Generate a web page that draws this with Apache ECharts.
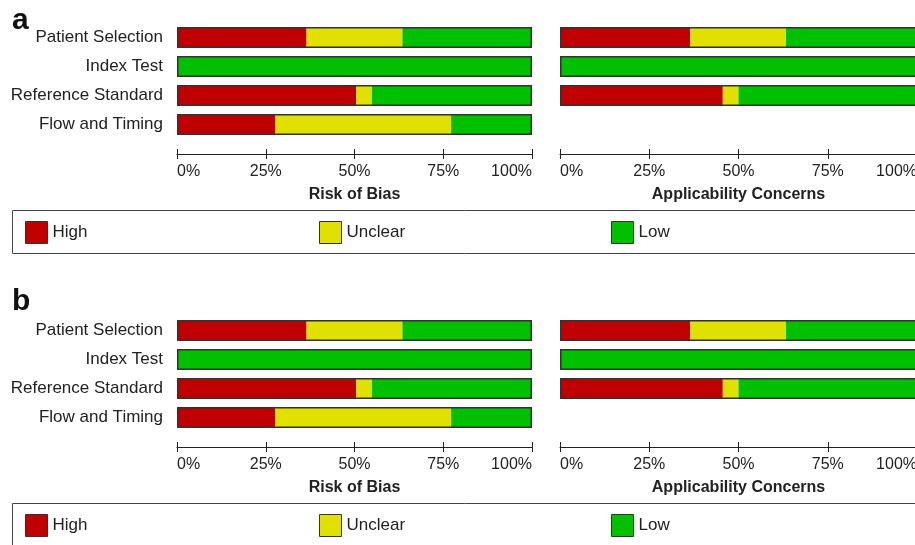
<!DOCTYPE html>
<html>
<head>
<meta charset="utf-8">
<script src="https://cdn.jsdelivr.net/npm/echarts@6/dist/echarts.min.js"></script>
<style>
html,body{margin:0;padding:0;background:#fff;}
#chart{width:915px;height:545px;}
</style>
</head>
<body>
<div id="chart"></div>
<script>
const categories = ['Patient Selection', 'Index Test', 'Reference Standard', 'Flow and Timing'];
const levels = ['High', 'Unclear', 'Low'];
const levelColors = ['#C00000', '#E1E100', '#00C000'];
// Risk of Bias (%)
const robHigh = [36.5, 0, 50.5, 27.7];
const robUnclear = [27.0, 0, 4.4, 49.5];
const robLow = [36.5, 100, 45.1, 22.8];
// Applicability Concerns (%) - Flow and Timing not assessed
const acHigh = [36.5, 0, 45.6, null];
const acUnclear = [26.8, 0, 4.4, null];
const acLow = [36.7, 100, 50.0, null];
const tickInterval = 25;
const panelLabels = ['a', 'b'];
const axisNames = ['Risk of Bias', 'Applicability Concerns'];

const FONT = 'Liberation Sans, Arial, sans-serif';
const panels = [0, 293];
const labelTops = [6, 287];
const grids = [], xAxes = [], yAxes = [], series = [], legends = [], graphics = [], titles = [];

const datasets = [[robHigh, robUnclear, robLow], [acHigh, acUnclear, acLow]];

panels.forEach((dy, p) => {
  titles.push({text: panelLabels[p], left: 12, top: labelTops[p], padding: 0,
    textStyle: {fontFamily: FONT, fontSize: 30, fontWeight: 'bold', color: '#111'}});
  [0, 1].forEach(side => {
    const gi = grids.length;
    grids.push({left: side === 0 ? 177 : 560, top: 23 + dy, width: side === 0 ? 355 : 357, height: 116,
      containLabel: false, outerBoundsMode: 'none'});
    const baseX = {
      type: 'value', gridIndex: gi, min: 0, max: 100, interval: tickInterval,
      position: 'bottom', offset: 15, splitLine: {show: false}
    };
    xAxes.push(Object.assign({}, baseX, {
      axisLine: {show: true, lineStyle: {color: '#222', width: 1}},
      axisTick: {show: true, length: 5, lineStyle: {color: '#222', width: 1}},
      axisLabel: {show: true, formatter: '{value}%', margin: 10, fontSize: 16, fontFamily: FONT, color: '#222',
        alignMinLabel: 'left', alignMaxLabel: 'right'},
      name: axisNames[side], nameLocation: 'middle', nameGap: 33,
      nameTextStyle: {fontFamily: FONT, fontSize: 16, fontWeight: 'bold', color: '#222'}
    }));
    const auxIndex = xAxes.length;
    xAxes.push(Object.assign({}, baseX, {
      axisLine: {show: false},
      axisTick: {show: true, inside: true, length: 5, lineStyle: {color: '#222', width: 1}},
      axisLabel: {show: false}
    }));
    const xi = auxIndex - 1;
    yAxes.push({
      type: 'category', gridIndex: gi, data: categories, inverse: true,
      axisLine: {show: false}, axisTick: {show: false},
      axisLabel: {show: side === 0, fontSize: 17, fontFamily: FONT, color: '#222', margin: 14}
    });
    const yi = yAxes.length - 1;
    const data = datasets[side];
    levels.forEach((lv, k) => {
      series.push({
        name: lv, type: 'bar', stack: 'g' + gi, xAxisIndex: xi, yAxisIndex: yi,
        barWidth: 21, barGap: '-100%', silent: true,
        itemStyle: {color: levelColors[k], borderWidth: 0},
        data: data[k].map(v => (v === null || v === 0) ? '-' : v)
      });
    });
    const totals = categories.map((c, i) => data[0][i] === null ? '-' :
      data[0][i] + data[1][i] + data[2][i]);
    series.push({
      name: 'outline', type: 'bar', xAxisIndex: xi, yAxisIndex: yi,
      barWidth: 21, barGap: '-100%', silent: true, z: 5,
      itemStyle: {color: 'rgba(0,0,0,0)', borderColor: '#333', borderWidth: 1.5},
      data: totals
    });
  });
  graphics.push({type: 'rect', silent: true,
    shape: {x: 12.5, y: 210.5 + dy, width: 920, height: 43},
    style: {fill: 'none', stroke: '#444', lineWidth: 1}});
  const lx = [25, 319, 611];
  levels.forEach((lv, k) => {
    legends.push({
      data: [lv], left: lx[k], top: 221 + dy, orient: 'horizontal', padding: 0,
      icon: 'rect', itemWidth: 22, itemHeight: 22, itemGap: 0,
      selectedMode: false,
      itemStyle: {borderColor: '#333', borderWidth: 1},
      textStyle: {fontFamily: FONT, fontSize: 17, color: '#222', padding: [0, 0, 0, 0]}
    });
  });
});

const chart = echarts.init(document.getElementById('chart'), null, {renderer: 'canvas'});
chart.setOption({
  animation: false,
  backgroundColor: '#fff',
  title: titles,
  grid: grids,
  xAxis: xAxes,
  yAxis: yAxes,
  legend: legends,
  series: series,
  graphic: graphics
});
</script>
</body>
</html>
